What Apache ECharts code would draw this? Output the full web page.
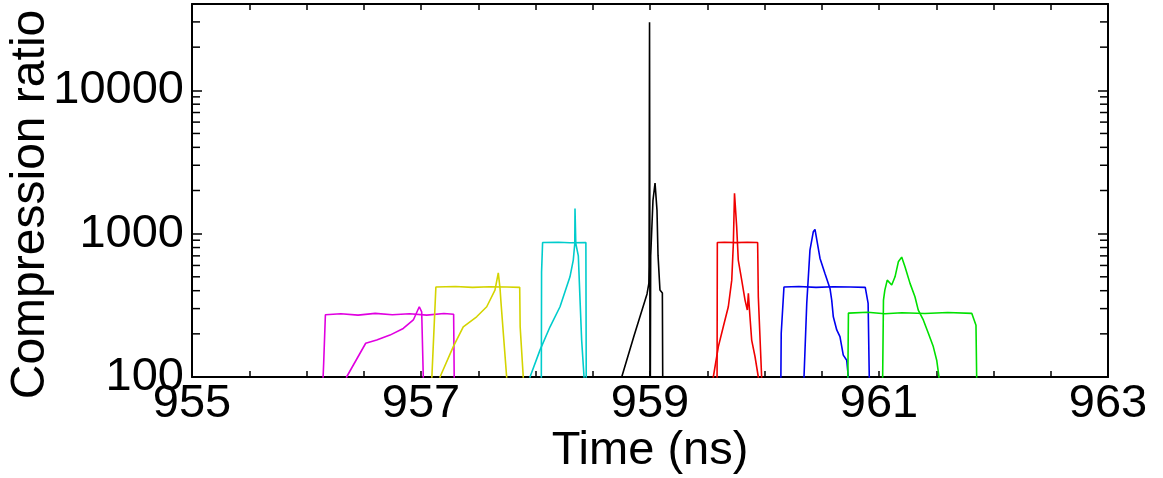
<!DOCTYPE html>
<html>
<head>
<meta charset="utf-8">
<script src="https://cdn.jsdelivr.net/npm/echarts@6/dist/echarts.min.js"></script>
<style>
html,body{margin:0;padding:0;background:#fff;}
#chart{width:1163px;height:478px;}
</style>
</head>
<body>
<div id="chart"></div>
<script>
// ---- tick labels ----
const xLabelValues = [955, 957, 959, 961, 963];
const yMinorTickValues = [200,300,400,500,600,700,800,900,2000,3000,4000,5000,6000,7000,8000,9000,20000,30000];

// ---- series data: [time (ns), compression ratio] ----
const magentaFlat = [[956.14,50],[956.145,100],[956.15,125],[956.158,128],[956.165,272],[956.3,276],[956.45,270],[956.6,278],[956.75,272],[956.9,276],[957.05,270],[957.2,277],[957.285,274],[957.29,100],[957.293,50]];
const magentaPeak = [[956.34,50],[956.35,100],[956.517,172],[956.613,181],[956.729,196],[956.845,218],[956.933,250],[956.985,309],[957.006,285],[957.02,100],[957.025,50]];

const yellowFlat = [[957.09,50],[957.095,100],[957.13,424],[957.3,428],[957.45,422],[957.6,426],[957.75,424],[957.862,422],[957.866,224],[957.893,100],[957.9,50]];
const yellowPeak = [[957.16,50],[957.166,100],[957.282,163],[957.369,224],[957.486,263],[957.574,309],[957.646,404],[957.675,533],[957.69,417],[957.699,328],[957.748,100],[957.755,50]];

const cyanFlat = [[958.05,50],[958.053,541],[958.058,541],[958.062,868],[958.2,872],[958.3,865],[958.44,868],[958.443,100],[958.446,50]];
const cyanPeak = [[957.945,50],[957.952,100],[958.039,154],[958.127,224],[958.214,309],[958.301,500],[958.33,654],[958.343,854],[958.345,1500],[958.352,854],[958.374,700],[958.389,344],[958.403,181],[958.424,100],[958.428,50]];

const blackPeakA = [[958.75,50],[958.753,100],[958.86,193],[958.974,380],[958.99,450],[958.992,600],[958.996,29800],[958.999,600],[959.0,100],[959.002,50]];
const blackPeakB = [[959.0,50],[959.003,100],[959.006,700],[959.026,1710],[959.044,2250],[959.061,1460],[959.07,708],[959.087,404],[959.108,385],[959.111,100],[959.113,50]];

const redFlat = [[959.585,50],[959.588,868],[959.65,872],[959.75,866],[959.85,870],[959.94,868],[959.946,363],[959.975,100],[959.978,50]];
const redPeak = [[959.548,50],[959.553,100],[959.597,163],[959.64,224],[959.684,309],[959.714,474],[959.728,854],[959.738,1910],[959.757,1115],[959.771,654],[959.801,474],[959.83,344],[959.85,293],[959.859,383],[959.873,263],[959.888,181],[959.917,139],[959.946,100],[959.95,50]];

const blueFlat = [[960.14,50],[960.143,100],[960.146,202],[960.17,424],[960.3,428],[960.45,422],[960.6,426],[960.75,424],[960.88,422],[960.905,326],[960.915,100],[960.918,50]];
const bluePeak = [[960.34,50],[960.345,100],[960.369,326],[960.397,767],[960.426,1030],[960.441,1070],[960.485,672],[960.528,528],[960.572,415],[960.587,344],[960.601,263],[960.631,213],[960.659,191],[960.688,142],[960.718,131],[960.732,100],[960.735,50]];

const greenFlat = [[960.725,50],[960.728,100],[960.733,279],[960.9,283],[961.05,276],[961.2,281],[961.4,277],[961.6,282],[961.81,278],[961.847,230],[961.853,100],[961.856,50]];
const greenPeak = [[961.028,50],[961.032,100],[961.039,344],[961.051,404],[961.072,474],[961.111,438],[961.14,500],[961.169,636],[961.198,686],[961.227,587],[961.271,450],[961.314,363],[961.343,293],[961.387,250],[961.431,202],[961.474,163],[961.504,131],[961.524,100],[961.528,50]];

const traces = [
  {name:'magenta-flat', data: magentaFlat, color:'#e000e0'},
  {name:'magenta-peak', data: magentaPeak, color:'#e000e0'},
  {name:'yellow-flat', data: yellowFlat, color:'#d4d400'},
  {name:'yellow-peak', data: yellowPeak, color:'#d4d400'},
  {name:'cyan-flat', data: cyanFlat, color:'#00cccc'},
  {name:'cyan-peak', data: cyanPeak, color:'#00cccc'},
  {name:'black-a', data: blackPeakA, color:'#000000'},
  {name:'black-b', data: blackPeakB, color:'#000000'},
  {name:'red-flat', data: redFlat, color:'#f00000'},
  {name:'red-peak', data: redPeak, color:'#f00000'},
  {name:'blue-flat', data: blueFlat, color:'#0000f0'},
  {name:'blue-peak', data: bluePeak, color:'#0000f0'},
  {name:'green-flat', data: greenFlat, color:'#00e000'},
  {name:'green-peak', data: greenPeak, color:'#00e000'}
];

const FONT = "'Liberation Sans', Arial, sans-serif";
const X_MIN = 955, X_MAX = 963, Y_MIN = 100, Y_MAX = 40000;

const chart = echarts.init(document.getElementById('chart'), null, {renderer:'canvas'});

const baseX = {
  type:'value', min:X_MIN, max:X_MAX, interval:1,
  axisLine:{show:true, onZero:false, lineStyle:{color:'#000', width:2}},
  axisTick:{show:true, inside:true, length:6, lineStyle:{color:'#000', width:1.5}},
  minorTick:{show:true, splitNumber:2, length:6, lineStyle:{color:'#000', width:1.5}},
  splitLine:{show:false}, minorSplitLine:{show:false}
};
const baseY = {
  type:'log', logBase:10, min:Y_MIN, max:Y_MAX,
  axisLine:{show:true, onZero:false, lineStyle:{color:'#000', width:2}},
  axisTick:{show:true, inside:true, length:10, lineStyle:{color:'#000', width:1.5}},
  minorTick:{show:false},
  splitLine:{show:false}
};

const option = {
  animation:false,
  backgroundColor:'#fff',
  grid:{left:192, top:4, width:916, height:373, containLabel:false, outerBoundsMode:'none'},
  xAxis:[
    Object.assign({}, baseX, {
      position:'bottom',
      name:'Time (ns)', nameLocation:'middle', nameGap:51, nameMoveOverlap:false,
      nameTextStyle:{fontFamily:FONT, fontSize:47, color:'#000'},
      axisLabel:{show:true, margin:4, fontFamily:FONT, fontSize:47, color:'#000',
        formatter: v => xLabelValues.indexOf(Math.round(v)) >= 0 && Math.abs(v - Math.round(v)) < 1e-6 ? String(Math.round(v)) : ''}
    }),
    Object.assign({}, baseX, {position:'top', axisLabel:{show:false}})
  ],
  yAxis:[
    Object.assign({}, baseY, {
      position:'left',
      name:'Compression ratio', nameLocation:'middle', nameGap:137, nameMoveOverlap:false,
      nameTextStyle:{fontFamily:FONT, fontSize:48, color:'#000', padding:[0,28,0,0]},
      axisLabel:{show:true, margin:8, fontFamily:FONT, fontSize:47, color:'#000', showMaxLabel:false,
        formatter: v => String(Math.round(v))}
    }),
    Object.assign({}, baseY, {position:'right', axisLabel:{show:false}})
  ],
  series: traces.map(t => ({
    name:t.name, type:'line', xAxisIndex:0, yAxisIndex:0,
    data:t.data, showSymbol:false, symbol:'none', clip:true,
    lineStyle:{color:t.color, width:1.6}, z:3
  })).concat([{
    type:'custom', name:'ytick-minor', xAxisIndex:0, yAxisIndex:0, silent:true, clip:false, z:5,
    data: yMinorTickValues.map(v => [X_MIN, v]),
    renderItem: function(params, api){
      const v = api.value(1);
      const pL = api.coord([X_MIN, v]);
      const pR = api.coord([X_MAX, v]);
      return {type:'group', children:[
        {type:'line', shape:{x1:pL[0], y1:pL[1], x2:pL[0]+8, y2:pL[1]}, style:{stroke:'#000', lineWidth:1.5}},
        {type:'line', shape:{x1:pR[0], y1:pR[1], x2:pR[0]-8, y2:pR[1]}, style:{stroke:'#000', lineWidth:1.5}}
      ]};
    }
  }])
};
chart.setOption(option);
</script>
</body>
</html>
